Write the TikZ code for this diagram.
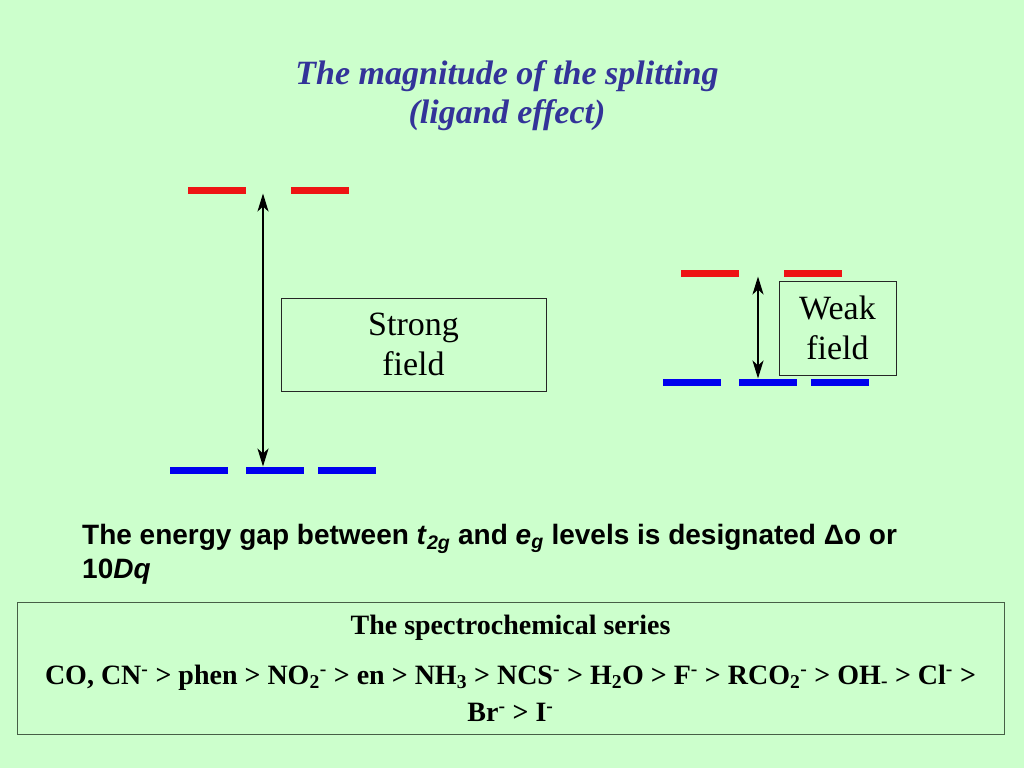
\documentclass[tikz,border=0pt]{standalone}
\usepackage{fontspec}
\setmainfont{Liberation Serif}
\setsansfont{Liberation Sans}
\usetikzlibrary{arrows.meta,positioning}
\definecolor{slidebg}{RGB}{204,255,204}
\definecolor{titleblue}{RGB}{51,51,153}
\definecolor{egred}{RGB}{238,20,20}
\definecolor{tgblue}{RGB}{0,0,238}
\definecolor{seriesline}{RGB}{70,95,70}

\begin{document}
\begin{tikzpicture}
[x=1pt, y=-1pt,
level/.style={minimum width=58pt, minimum height=7pt, inner sep=0pt, outer sep=0pt},
eg/.style={level, fill=egred},
tg/.style={level, fill=tgblue},
gap/.style={{Stealth[length=18pt,width=11pt,inset=5pt]}-{Stealth[length=18pt,width=11pt,inset=5pt]}, line width=2.4pt},
fieldbox/.style={draw=black!85, line width=0.8pt, align=center, inner sep=0pt,
  font=\fontsize{34}{40}\selectfont},
node distance=18pt
]
  \fill[slidebg] (0,0) rectangle (1024,768);
  \useasboundingbox (0,0) rectangle (1024,768);

  \node[text=titleblue, align=center, font=\bfseries\itshape\fontsize{34}{39}\selectfont]
    (title) at (507,96) {The magnitude of the splitting\\(ligand effect)};

  % strong field
  \node[eg] (sr1) at (216.5,190) {};
  \node[eg] (sr2) [right=45pt of sr1] {};
  \node[tg] (sb1) at (199,470) {};
  \node[tg] (sb2) [right=of sb1] {};
  \node[tg] (sb3) [right=14pt of sb2] {};
  \coordinate (sx) at (263,0);
  \draw[gap] (sr1.south -| sx) -- (sb2.north -| sx);
  \node[fieldbox, minimum width=265pt, minimum height=93pt] (strong) at (413.5,344.5) {Strong\\field};

  % weak field
  \node[eg] (wr1) at (710,273) {};
  \node[eg] (wr2) [right=45pt of wr1] {};
  \node[tg] (wb1) at (692,382) {};
  \node[tg] (wb2) [right=of wb1] {};
  \node[tg] (wb3) [right=14pt of wb2] {};
  \coordinate (wx) at (758,0);
  \draw[gap] (wr1.south -| wx) -- (wb2.north -| wx);
  \node[fieldbox, minimum width=117pt, minimum height=94pt] (weak) at (837.5,328) {Weak\\field};

  \node[anchor=north west, inner sep=0pt, align=left,
    font=\sffamily\bfseries\fontsize{28}{34}\selectfont] (gaptext) at (82,524)
    {The energy gap between \textit{t}\textsubscript{\textit{2g}} and \textit{e}\textsubscript{\textit{g}} levels is designated Δo or\\10\textit{Dq}};

  \node[draw=seriesline, line width=1pt, minimum width=987pt, minimum height=132pt,
    align=center, inner sep=0pt, font=\bfseries\fontsize{28}{37}\selectfont]
    (series) at (510.5,668)
    {The spectrochemical series\\[13pt]
     CO, CN\textsuperscript{-} > phen > NO\textsubscript{2}\textsuperscript{-} > en > NH\textsubscript{3} > NCS\textsuperscript{-} > H\textsubscript{2}O > F\textsuperscript{-} > RCO\textsubscript{2}\textsuperscript{-} > OH\textsubscript{-} > Cl\textsuperscript{-} >\\
     Br\textsuperscript{-} > I\textsuperscript{-}};
\end{tikzpicture}
\end{document}
